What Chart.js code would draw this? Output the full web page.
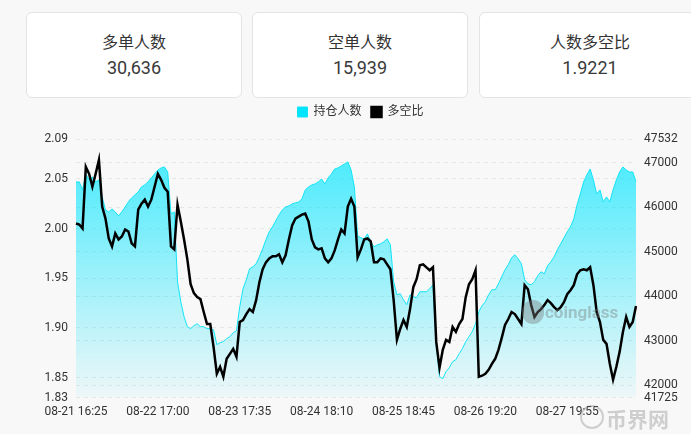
<!DOCTYPE html>
<html>
<head>
<meta charset="utf-8">
<script src="https://cdn.jsdelivr.net/npm/chart.js@4.4.1/dist/chart.umd.min.js"></script>
<style>
html,body{margin:0;padding:0;background:#f8f8f8;width:691px;height:434px;overflow:hidden;font-family:Roboto,"Noto Sans CJK SC",sans-serif;color:#333;}
.card{position:absolute;top:12px;width:214px;height:84px;background:#fff;border:1px solid #e4e4e4;border-radius:6px;text-align:center;}
.card .t{position:absolute;left:0;right:0;top:17px;font-size:16px;line-height:22px;font-family:"Noto Sans CJK SC",sans-serif;}
.card .v{position:absolute;left:0;right:0;top:43px;font-size:18px;line-height:24px;color:#3a3a3a;}
#wrap{position:absolute;left:0;top:96px;width:691px;height:338px;}
.wm1{position:absolute;left:545px;top:302px;font:bold 17px Roboto,sans-serif;color:rgba(120,120,120,.4);pointer-events:none;}
.wm1b{position:absolute;left:522px;top:300px;width:22px;height:24px;border-radius:11px;background:rgba(120,120,120,.4);pointer-events:none;}
.wm2{position:absolute;left:606px;top:403px;font:bold 21px "Noto Sans CJK SC",sans-serif;color:rgba(110,110,110,.3);pointer-events:none;}
.wm2b{position:absolute;left:580px;top:405px;width:20px;height:20px;border-radius:12px;border:2px solid rgba(110,110,110,.3);pointer-events:none;}
</style>
</head>
<body>
<div class="card" style="left:26px"><div class="t">多单人数</div><div class="v">30,636</div></div>
<div class="card" style="left:252px"><div class="t">空单人数</div><div class="v">15,939</div></div>
<div class="card" style="left:479px;width:220px"><div class="t">人数多空比</div><div class="v">1.9221</div></div>
<div id="wrap"><canvas id="ch" width="691" height="338"></canvas></div>
<div class="wm1b"></div><div class="wm1">coinglass</div>
<div class="wm2b"></div><div class="wm2">币界网</div>
<script>
// x tick labels, one every 25 points (59 min per point)
const tickLabels=['08-21 16:25','08-22 17:00','08-23 17:35','08-24 18:10','08-25 18:45','08-26 19:20','08-27 19:55'];
const tickEvery=25;
const leftTicks=[1.83,1.85,1.90,1.95,2.00,2.05,2.09];
const rightTicks=[41725,42000,43000,44000,45000,46000,47000,47532];

// 持仓人数
const holders=[46568,46568,46389,46747,46613,46680,46568,46613,46232,45940,
45895,45963,45895,45806,45895,46007,46120,46209,46276,46344,
46456,46501,46568,46658,46747,46837,46882,46904,46792,45851,
45895,44326,43878,43541,43317,43272,43339,43384,43317,43317,
43272,43272,43250,42914,42958,42981,43048,43093,43182,43227,
43766,44169,44371,44617,44662,44730,44886,45066,45268,45447,
45559,45694,45828,45940,46007,46030,46075,46097,46120,46187,
46389,46456,46501,46523,46568,46635,46523,46658,46747,46859,
46882,46927,46972,47016,46837,46456,45357,45312,45290,45402,
45223,45111,45155,45178,45223,45290,45155,44326,44034,44057,
43922,43810,44034,43990,43967,44102,44102,44102,44169,44259,
42914,42196,42151,42308,42398,42532,42577,42712,42824,42981,
43093,43205,43384,43653,43788,43878,44034,44147,44147,44281,
44438,44595,44707,44864,44931,44842,44730,44371,44281,44259,
44326,44461,44550,44505,44685,44774,44886,45043,45178,45312,
45447,45559,45738,46052,46299,46568,46725,46859,46613,46299,
46389,46120,46232,46120,46389,46613,46792,46904,46837,46792,
46792,46575];

// 多空比
const ratio=[2.005,2.004,2.000,2.062,2.055,2.042,2.055,2.069,2.022,2.010,
1.990,1.982,1.995,1.989,1.992,1.999,1.997,1.985,1.982,2.019,
2.025,2.029,2.022,2.029,2.042,2.055,2.049,2.041,2.037,1.982,
1.979,2.024,2.007,1.989,1.969,1.944,1.935,1.931,1.929,1.916,
1.904,1.904,1.881,1.854,1.861,1.851,1.869,1.874,1.879,1.871,
1.906,1.908,1.914,1.919,1.916,1.928,1.946,1.959,1.966,1.970,
1.972,1.972,1.974,1.966,1.973,1.989,2.003,2.010,2.012,2.014,
2.015,2.007,1.989,1.981,1.979,1.980,1.970,1.966,1.970,1.978,
1.989,1.999,1.995,2.022,2.030,2.022,1.971,1.979,1.989,1.990,
1.987,1.966,1.966,1.970,1.969,1.964,1.959,1.928,1.888,1.899,
1.908,1.901,1.919,1.941,1.949,1.963,1.964,1.961,1.958,1.961,
1.886,1.860,1.878,1.888,1.886,1.901,1.896,1.904,1.909,1.931,
1.944,1.949,1.958,1.851,1.852,1.854,1.858,1.864,1.869,1.878,
1.890,1.903,1.909,1.916,1.914,1.909,1.904,1.943,1.939,1.923,
1.911,1.916,1.919,1.923,1.928,1.925,1.921,1.918,1.921,1.926,
1.934,1.938,1.943,1.954,1.958,1.959,1.958,1.961,1.943,1.916,
1.906,1.888,1.884,1.864,1.848,1.861,1.876,1.896,1.911,1.901,
1.906,1.922];

const labels=ratio.map((_,i)=>i%tickEvery===0?(tickLabels[i/tickEvery]||''):'');
const FONT={family:'Roboto, "Noto Sans CJK SC", sans-serif',size:12};

function cyanFill(ctx){
  const a=ctx.chart.chartArea;
  if(!a)return 'rgba(0,229,255,.4)';
  const g=ctx.chart.ctx.createLinearGradient(0,a.top,0,a.bottom);
  g.addColorStop(0,'rgba(0,229,255,.75)');
  g.addColorStop(1,'rgba(0,229,255,.04)');
  return g;
}

const legendGap={id:'legendGap',beforeInit(chart){
  const fit=chart.legend.fit;
  chart.legend.fit=function(){fit.bind(chart.legend)();this.height+=11;};
}};

new Chart(document.getElementById('ch'),{
  type:'line',
  data:{labels,datasets:[
    {label:'多空比',data:ratio,yAxisID:'y',borderColor:'#000',backgroundColor:'#000',borderWidth:2.5,pointRadius:0,tension:0,fill:false},
    {label:'持仓人数',data:holders,yAxisID:'y1',borderColor:'#12e4f5',backgroundColor:'#00e5ff',borderWidth:1,pointRadius:0,tension:0,
     fill:{target:'origin',above:cyanFill}}
  ]},
  options:{
    responsive:false,animation:false,
    layout:{padding:{left:30,right:0,top:0,bottom:8}},
    plugins:{
      legend:{reverse:true,labels:{boxWidth:10,boxHeight:10,padding:10,color:'#333',font:FONT}},
      tooltip:{enabled:false}
    },
    scales:{
      x:{grid:{display:false,drawTicks:false},border:{display:false},
        ticks:{autoSkip:false,maxRotation:0,minRotation:0,padding:7,color:'#333',font:FONT}},
      y:{position:'left',min:1.83,max:2.09,
        afterBuildTicks(s){s.ticks=leftTicks.map(v=>({value:v}));},
        afterFit(s){s.width=46;},
        grid:{color:'#e6e6e6',drawTicks:false},border:{display:false,dash:[4,4]},
        ticks:{padding:8,color:'#333',font:FONT,callback:v=>v.toFixed(2)}},
      y1:{position:'right',min:41725,max:47532,
        afterBuildTicks(s){s.ticks=rightTicks.map(v=>({value:v}));},
        afterFit(s){s.width=55;},
        grid:{color:'#e6e6e6',drawTicks:false},border:{display:false,dash:[4,4]},
        ticks:{padding:8,color:'#333',font:FONT,callback:v=>String(v)}}
    }
  },
  plugins:[legendGap]
});
</script>
</body>
</html>
